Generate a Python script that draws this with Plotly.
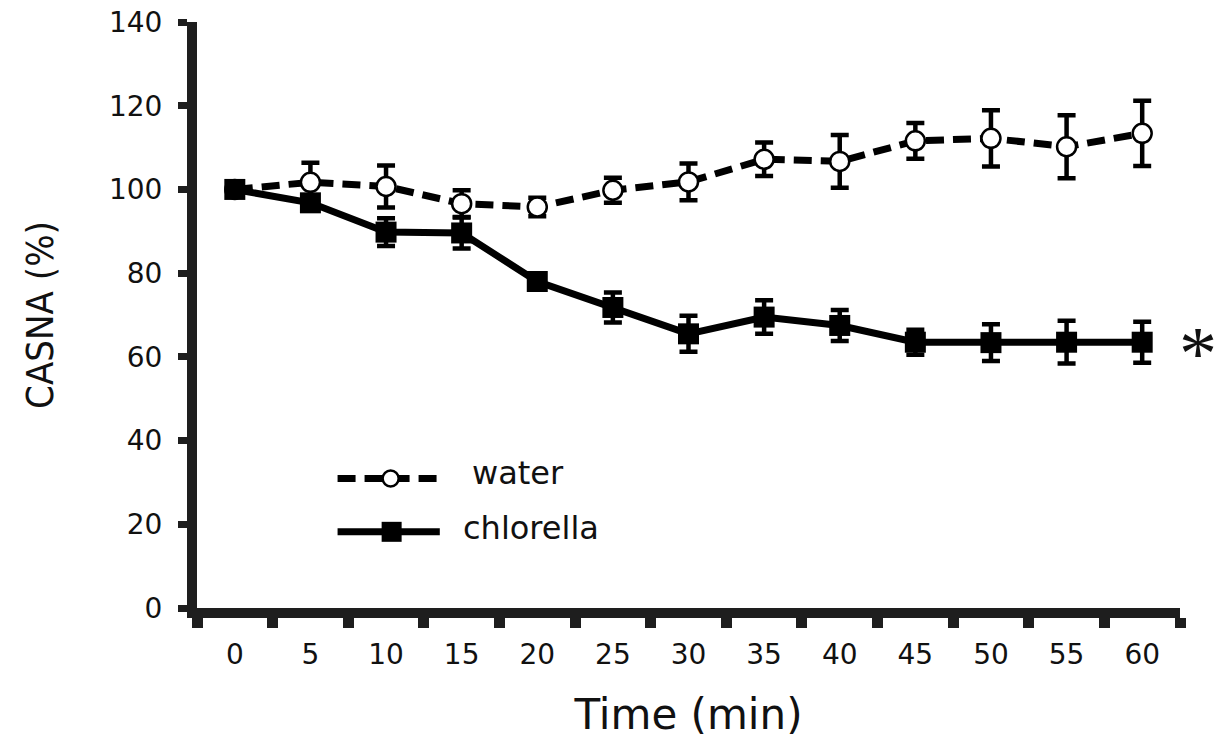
import plotly.graph_objects as go

# ---- data ----
time_min = [0, 5, 10, 15, 20, 25, 30, 35, 40, 45, 50, 55, 60]
x_tick_labels = [str(t) for t in time_min]
y_tick_vals = [0, 20, 40, 60, 80, 100, 120, 140]
x_minor_ticks = [-2.5, 2.5, 7.5, 12.5, 17.5, 22.5, 27.5, 32.5, 37.5, 42.5, 47.5, 52.5, 57.5, 62.5]

water_mean = [100, 101.7, 100.7, 96.6, 95.8, 99.8, 101.8, 107.2, 106.7, 111.6, 112.2, 110.2, 113.4]
water_err = [0, 4.7, 5.0, 3.2, 2.2, 3.0, 4.4, 4.0, 6.3, 4.3, 6.7, 7.5, 7.8]
chlorella_mean = [100, 96.8, 89.8, 89.6, 78.0, 71.8, 65.5, 69.5, 67.5, 63.5, 63.4, 63.5, 63.5]
chlorella_err = [0, 1.5, 3.3, 3.7, 1.5, 3.6, 4.3, 4.0, 3.7, 3.0, 4.4, 5.1, 4.9]

series_names = ["water", "chlorella"]

AX = "#1e1e1e"
TICKFONT = dict(family="DejaVu Sans", size=28, color="#111")

fig = go.Figure()
fig.add_trace(go.Scatter(
    x=time_min, y=water_mean, name=series_names[0], mode="lines+markers",
    line=dict(color="black", width=7, dash="18px,9px"),
    marker=dict(symbol="circle", size=19, color="white", line=dict(color="black", width=2.5)),
    error_y=dict(type="data", array=water_err, visible=True, color="black", thickness=4.5, width=9),
    showlegend=False,
))
fig.add_trace(go.Scatter(
    x=time_min, y=chlorella_mean, name=series_names[1], mode="lines+markers",
    line=dict(color="black", width=7),
    marker=dict(symbol="square", size=21, color="black"),
    error_y=dict(type="data", array=chlorella_err, visible=True, color="black", thickness=4.5, width=9),
    showlegend=False,
))

# significance star after the last chlorella point
fig.add_annotation(x=time_min[-1], y=chlorella_mean[-1], text="*", showarrow=False,
                   xanchor="right", xshift=76, yshift=-11, borderpad=0,
                   font=dict(family="Liberation Serif", size=76, color="#111"))

# ---- hand-drawn style legend (decoration) ----
leg = [
    dict(name=series_names[0], yp=0.221, dash="18px,9px", sym="circle", tx=0.278, ty=0.230),
    dict(name=series_names[1], yp=0.130, dash="solid", sym="square", tx=0.269, ty=0.137),
]
shapes = []
for it in leg:
    shapes.append(dict(type="line", xref="paper", yref="paper", x0=0.143, x1=0.247,
                       y0=it["yp"], y1=it["yp"], line=dict(color="black", width=7, dash=it["dash"])))
    if it["sym"] == "circle":
        shapes.append(dict(type="circle", xref="paper", yref="paper", xsizemode="pixel", ysizemode="pixel",
                           xanchor=0.197, yanchor=it["yp"], x0=-8, x1=8, y0=-8, y1=8,
                           fillcolor="white", line=dict(color="black", width=2.5)))
    else:
        shapes.append(dict(type="rect", xref="paper", yref="paper", xsizemode="pixel", ysizemode="pixel",
                           xanchor=0.198, yanchor=it["yp"], x0=-10, x1=10, y0=-10, y1=10,
                           fillcolor="black", line=dict(color="black", width=0)))
    fig.add_annotation(xref="paper", yref="paper", x=it["tx"], y=it["ty"], text=it["name"],
                       showarrow=False, xanchor="left", yanchor="middle",
                       font=dict(family="DejaVu Sans", size=32, color="#111"))

fig.update_layout(
    width=1221, height=754,
    margin=dict(l=197, r=41, t=22, b=146),
    paper_bgcolor="white", plot_bgcolor="white",
    shapes=shapes,
    xaxis=dict(
        range=[-2.5, 62.5], tickvals=time_min, ticktext=x_tick_labels,
        ticks="", showgrid=False, zeroline=False, automargin=False,
        showline=True, linecolor=AX, linewidth=10,
        tickfont=TICKFONT, ticklabelstandoff=12,
        minor=dict(tickvals=x_minor_ticks, ticks="outside", ticklen=10, tickwidth=11, tickcolor=AX, showgrid=False),
        title=dict(text="Time (min)", font=dict(family="DejaVu Sans", size=42, color="#111"), standoff=34),
    ),
    yaxis=dict(
        range=[0, 140], tickvals=y_tick_vals,
        ticks="outside", ticklen=9, tickwidth=7, tickcolor=AX,
        showgrid=False, zeroline=False, automargin=False,
        showline=True, linecolor=AX, linewidth=10,
        tickfont=TICKFONT, ticklabelstandoff=10,
        title=dict(text="CASNA (%)", font=dict(family="DejaVu Sans Condensed", size=38, color="#111"), standoff=48),
    ),
)

fig.write_html("out.html", config={"displayModeBar": False},
               post_script="document.body.style.margin='0';")
